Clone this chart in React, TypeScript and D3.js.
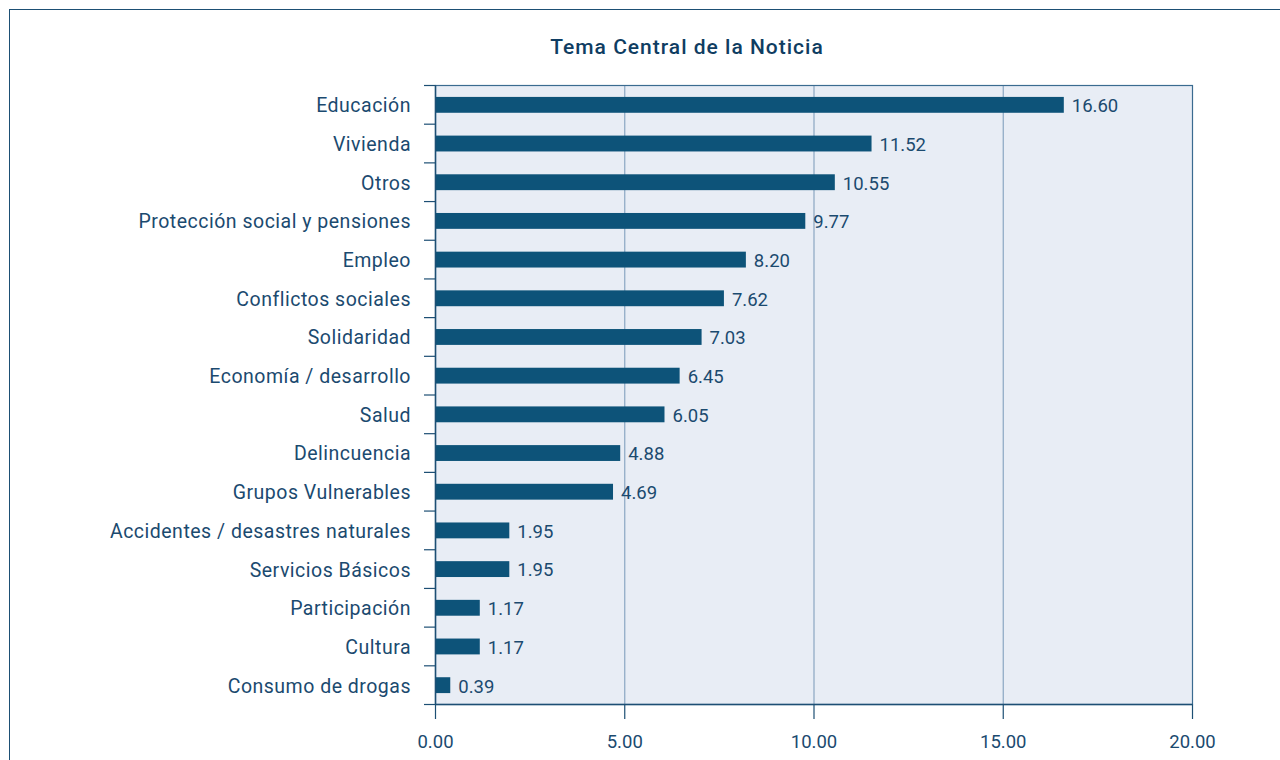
import React from "react";
import * as d3 from "d3";

const categories = [
  "Educación",
  "Vivienda",
  "Otros",
  "Protección social y pensiones",
  "Empleo",
  "Conflictos sociales",
  "Solidaridad",
  "Economía / desarrollo",
  "Salud",
  "Delincuencia",
  "Grupos Vulnerables",
  "Accidentes / desastres naturales",
  "Servicios Básicos",
  "Participación",
  "Cultura",
  "Consumo de drogas",
];
const values = [16.6, 11.52, 10.55, 9.77, 8.2, 7.62, 7.03, 6.45, 6.05, 4.88, 4.69, 1.95, 1.95, 1.17, 1.17, 0.39];
const xTicks = [0, 5, 10, 15, 20];
const title = "Tema Central de la Noticia";

const W = 1280;
const H = 760;
const left = 435.5;
const right = 1192.5;
const top = 85.5;
const bottom = 704.5;

const FONT = "Roboto, 'Noto Sans', sans-serif";
const TEXT = "#1b4a6f";

export default function App() {
  const x = d3.scaleLinear().domain([0, 20]).range([left, right]);
  const y = d3.scaleBand<string>().domain(categories).range([top, bottom]).paddingInner(0).paddingOuter(0);
  const bh = y.bandwidth() * 0.41;
  const fmt = d3.format(".2f");
  const bandEdges = d3.range(categories.length + 1).map((i) => top + i * y.bandwidth());

  return (
    <svg width={W} height={H} style={{ position: "absolute", left: 0, top: 0, background: "#fff" }}>
      <rect x={9.5} y={9.5} width={1400} height={900} fill="#fff" stroke="#1d4f74" strokeWidth={1} />
      <text x={687} y={54} textAnchor="middle" fontFamily={FONT} fontWeight={500} fontSize={21} letterSpacing={1} fill="#0f3d62">
        {title}
      </text>
      <rect x={left} y={top} width={right - left} height={bottom - top} fill="#e8edf5" />
      {xTicks.slice(1, -1).map((t) => (
        <line key={t} x1={x(t)} x2={x(t)} y1={top} y2={bottom} stroke="#8aa6c2" strokeWidth={1.2} />
      ))}
      <rect x={left} y={top} width={right - left} height={bottom - top} fill="none" stroke="#3a6b90" strokeWidth={1.2} />
      {categories.map((c, i) => (
        <g key={c}>
          <rect x={x(0)} y={(y(c) as number) + (y.bandwidth() - bh) / 2} width={x(values[i]) - x(0)} height={bh} fill="#0d5379" />
          <text
            x={x(values[i]) + 8}
            y={(y(c) as number) + y.bandwidth() / 2}
            dy="0.4em"
            fontFamily={FONT}
            fontSize={18.5}
            fill={TEXT}
          >
            {fmt(values[i])}
          </text>
          <text
            x={411}
            y={(y(c) as number) + y.bandwidth() / 2}
            dy="0.38em"
            textAnchor="end"
            fontFamily={FONT}
            fontSize={19.5}
            letterSpacing={0.5}
            fill={TEXT}
          >
            {c}
          </text>
        </g>
      ))}
      <line x1={left} x2={left} y1={top} y2={bottom} stroke="#1d4f74" strokeWidth={1.5} />
      {bandEdges.map((e, i) => (
        <line key={i} x1={424} x2={left} y1={e} y2={e} stroke="#1d4f74" strokeWidth={1.2} />
      ))}
      <line x1={left} x2={right} y1={bottom} y2={bottom} stroke="#1d4f74" strokeWidth={1.5} />
      {xTicks.map((t) => (
        <g key={t}>
          <line x1={x(t)} x2={x(t)} y1={bottom} y2={719} stroke="#1d4f74" strokeWidth={1.2} />
          <text x={x(t)} y={741} dy="0.36em" textAnchor="middle" fontFamily={FONT} fontSize={18.5} fill={TEXT}>
            {fmt(t)}
          </text>
        </g>
      ))}
    </svg>
  );
}
